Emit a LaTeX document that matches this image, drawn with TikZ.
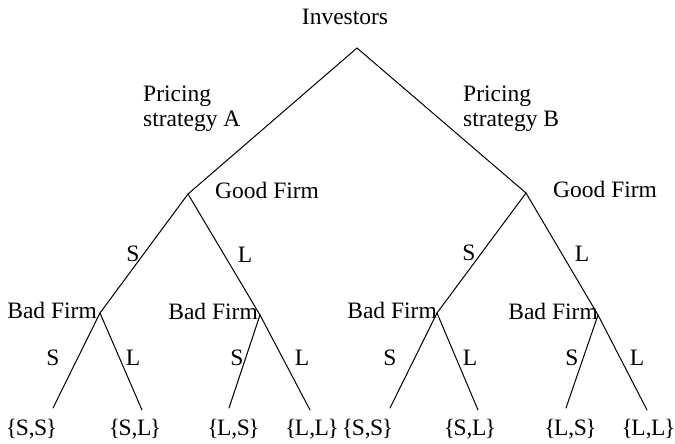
\documentclass[tikz,border=0pt]{standalone}
\usepackage{fontspec}
\setmainfont{Liberation Serif}
\tikzset{
  br/.style  = { line width=1pt, line cap=round },
  lbl/.style = { inner sep=0pt, font=\fontsize{23.5}{25}\selectfont },
  mv/.style  = { lbl },
  pay/.style = { lbl, anchor=base },
  pl/.style  = { lbl, anchor=base east }
}
\newcommand{\outc}[2]{\{\kern-1.5pt#1,\kern-.5pt#2\kern-1.5pt\}}

\begin{document}
\begin{tikzpicture}[x=1pt,y=-1pt]
  \useasboundingbox (0,0) rectangle (675,444);
  % decision points
  \coordinate (inv)  at (357,48);
  \coordinate (gfA)  at (188,194);
  \coordinate (gfB)  at (526,193);
  \coordinate (bfAS) at (100,313);
  \coordinate (bfAL) at (260,315);
  \coordinate (bfBS) at (437,313);
  \coordinate (bfBL) at (598,315);
  % end points
  \coordinate (eASS) at (53,408);
  \coordinate (eASL) at (142,410);
  \coordinate (eALS) at (229,408);
  \coordinate (eALL) at (310,410);
  \coordinate (eBSS) at (390,408);
  \coordinate (eBSL) at (478,410);
  \coordinate (eBLS) at (566,408);
  \coordinate (eBLL) at (647,410);
  % players
  \node[pay] (tInv) at (345,25) {Investors};
  \node[lbl, anchor=base west] (tgA) at (215,198) {Good Firm};
  \node[lbl, anchor=base west] (tgB) at (553,197) {Good Firm};
  \node[pl] (tbAS) at (97,318) {Bad Firm};
  \node[pl] (tbAL) at (258,319) {Bad Firm};
  \node[pl] (tbBS) at (437,318) {Bad Firm};
  \node[pl] (tbBL) at (598,319) {Bad Firm};
  \node[lbl, align=left, anchor=north west] (pA) at (143,86) {Pricing\\strategy A};
  \node[lbl, align=left, anchor=north west] (pB) at (463,86) {Pricing\\strategy B};
  % branches
  \draw[br] (gfA) -- (inv) -- (gfB);
  \draw[br] (bfAS) -- (gfA) -- (bfAL);
  \draw[br] (bfBS) -- (gfB) -- (bfBL);
  \draw[br] (eASS) -- (bfAS) -- (eASL);
  \draw[br] (eALS) -- (bfAL) -- (eALL);
  \draw[br] (eBSS) -- (bfBS) -- (eBSL);
  \draw[br] (eBLS) -- (bfBL) -- (eBLL);
  % moves
  \node[mv] (mAS) at (133,254) {S};
  \node[mv] (mAL) at (245,255) {L};
  \node[mv] (mBS) at (469,253) {S};
  \node[mv] (mBL) at (582,254) {L};
  \node[mv] (mASS) at (53,358) {S};
  \node[mv] (mASL) at (133,358) {L};
  \node[mv] (mALS) at (237,358) {S};
  \node[mv] (mALL) at (302,358) {L};
  \node[mv] (mBSS) at (390,358) {S};
  \node[mv] (mBSL) at (470,358) {L};
  \node[mv] (mBLS) at (572,358) {S};
  \node[mv] (mBLL) at (637,358) {L};
  % outcomes
  \node[pay] (oASS) at (31.5,435) {\outc{S}{S}};
  \node[pay] (oASL) at (135,435)  {\outc{S}{L}};
  \node[pay] (oALS) at (233.5,435) {\outc{L}{S}};
  \node[pay] (oALL) at (312,435)  {\outc{L}{L}};
  \node[pay] (oBSS) at (367.5,435) {\outc{S}{S}};
  \node[pay] (oBSL) at (470,435)  {\outc{S}{L}};
  \node[pay] (oBLS) at (570.5,435) {\outc{L}{S}};
  \node[pay] (oBLL) at (648.5,435) {\outc{L}{L}};
\end{tikzpicture}
\end{document}
